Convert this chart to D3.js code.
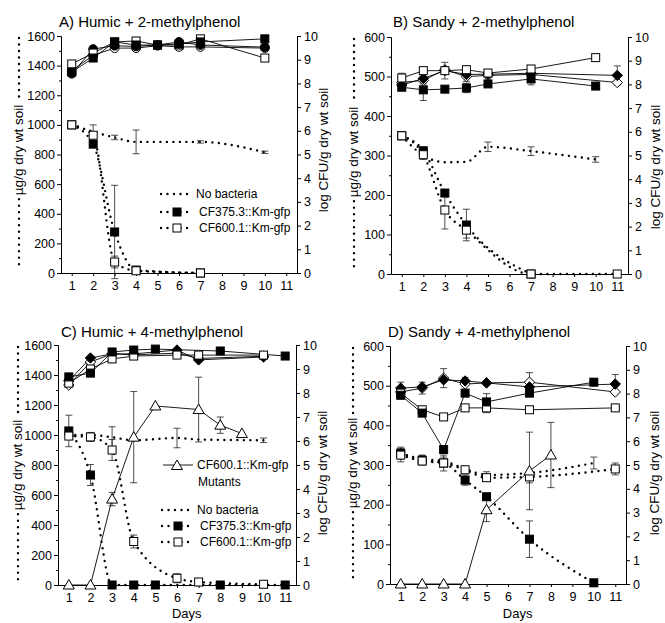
<!DOCTYPE html>
<html><head><meta charset="utf-8">
<script src="https://cdn.jsdelivr.net/npm/d3@7"></script>
<style>
body{margin:0;background:#fff;}
svg text{font-family:"Liberation Sans",Arial,sans-serif;fill:#000;}
</style></head><body>
<svg id="chart" width="665" height="623"></svg>
<script>
// ---------------- DATA ----------------
const dayTicks = [1,2,3,4,5,6,7,8,9,10,11];
const logTicks = [0,1,2,3,4,5,6,7,8,9,10];
const humicTicks = [0,200,400,600,800,1000,1200,1400,1600];
const sandyTicks = [0,100,200,300,400,500,600];
const legendLabels = ["No bacteria","CF375.3::Km-gfp","CF600.1::Km-gfp"];
const mutantLabels = ["CF600.1::Km-gfp","Mutants"];

// Panel A  (top series: log CFU/g, right axis; bottom series: ug/g, left axis)
const A_topDays = [1,2,3,4,5,6,7,10];
const A_topFilledSq = [8.48,9.07,9.75,9.62,9.62,9.66,9.75,9.88];
const A_topOpenSq   = [8.82,9.28,9.75,9.79,9.62,9.62,9.88,9.07];
const A_topFilledRd = [8.41,9.45,9.59,9.56,9.62,9.75,9.62,9.53];
const A_topOpenRd   = [8.53,9.19,9.49,9.49,9.59,9.54,9.54,9.49];
const A_noBactDays = [1,3,4,7,10];
const A_noBact     = [1000,915,885,885,815];
const A_noBactErr  = [0,15,80,8,8];
const A_cf375Days = [1,2,3,4,7];
const A_cf375     = [1000,870,277,20,0];
const A_cf375Err  = [0,0,315,0,0];
const A_cf600Days = [1,2,3,4,7];
const A_cf600     = [1000,930,74,15,0];
const A_cf600Err  = [0,70,40,10,0];

// Panel B
const B_topDaysSq = [1,2,3,4,5,7,10];
const B_topDaysDm = [1,2,3,4,5,7,11];
const B_topFilledSq = [7.88,7.77,7.8,7.85,8.02,8.23,7.93];
const B_topFilledSqErr = [0.1,0.45,0,0.2,0,0.25,0];
const B_topOpenSq   = [8.27,8.58,8.58,8.62,8.48,8.65,9.13];
const B_topOpenSqErr = [0.2,0,0.35,0.15,0,0,0];
const B_topFilledDm = [7.97,8.25,8.58,8.42,8.43,8.47,8.38];
const B_topFilledDmErr = [0,0,0,0,0,0,0.4];
const B_topOpenDm   = [8.08,8.17,8.62,8.33,8.38,8.42,8.08];
const B_topOpenDmErr = [0,0.15,0,0.2,0,0.25,0];
const B_noBactDays = [1,2,3,4,5,7,10];
const B_noBact     = [350,300,283,284,322,311,290];
const B_noBactErr  = [8,0,0,0,12,11,7];
const B_cf375Days = [1,2,3,4,7];
const B_cf375     = [350,312,205,124,0];
const B_cf375Err  = [0,0,0,40,0];
const B_cf600Days = [1,2,3,4,7,11];
const B_cf600     = [350,302,162,111,0,0];
const B_cf600Err  = [10,12,48,20,0,0];

// Panel C
const C_topDaysSq = [1,2,3,4,5,8,11];
const C_topDaysOther = [1,2,3,4,6,7,10];
const C_topFilledSq = [8.67,8.83,9.71,9.79,9.83,9.75,9.54];
const C_topFilledSqErr = [0,0.15,0,0,0,0,0];
const C_topOpenSq   = [8.41,9.0,9.42,9.54,9.58,9.58,9.58];
const C_topOpenSqErr = [0.1,0,0.15,0,0,0,0.1];
const C_topFilledDm = [8.5,9.46,9.63,9.63,9.79,9.38,9.5];
const C_topOpenDm   = [8.33,9.29,9.63,9.59,9.66,9.44,9.53];
const C_noBactDays = [1,2,3,4,6,7,10];
const C_noBact     = [1000,1000,985,965,980,970,965];
const C_noBactErr  = [0,0,70,0,65,0,15];
const C_cf375Days = [1,2,3,4,5,8,11];
const C_cf375     = [1027,733,0,0,0,0,0];
const C_cf375Err  = [105,70,0,0,0,0,0];
const C_cf600Days = [1,2,3,4,6,7,10];
const C_cf600     = [993,987,900,290,45,20,5];
const C_cf600Err  = [0,30,70,43,30,0,0];
const C_mutDays = [1,2,3,4,5,7,8,9];
const C_mutLog  = [0,0,3.58,6.16,7.46,7.31,6.66,6.31];
const C_mutErr  = [0,0,0.28,1.9,0,1.35,0.34,0];

// Panel D
const D_topDaysSq = [1,2,3,4,5,7,10];
const D_topDaysOther = [1,2,3,4,5,7,11];
const D_topFilledSq = [7.93,7.18,5.65,8.02,7.65,8.02,8.48];
const D_topFilledSqErr = [0.1,0,0,0,0.35,0,0.15];
const D_topOpenSq   = [8.02,7.32,7.02,7.4,7.4,7.32,7.4];
const D_topOpenSqErr = [0,0,0,0,0.2,0,0];
const D_topFilledDm = [8.23,8.28,8.58,8.53,8.45,8.28,8.4];
const D_topFilledDmErr = [0.25,0,0,0.15,0,0,0.4];
const D_topOpenDm   = [8.07,8.23,8.65,8.4,8.45,8.48,8.07];
const D_topOpenDmErr = [0,0.25,0.4,0,0,0.4,0];
const D_noBactDays = [1,2,3,4,5,7,10];
const D_noBact     = [330,315,310,290,275,280,305];
const D_noBactErr  = [15,10,10,0,8,0,15];
const D_cf375Days = [1,2,3,4,5,7,10];
const D_cf375     = [330,312,305,262,220,113,3];
const D_cf375Err  = [0,12,20,13,0,46,5];
const D_cf600Days = [1,2,3,4,5,7,11];
const D_cf600     = [325,310,305,288,268,270,290];
const D_cf600Err  = [17,0,0,0,8,15,15];
const D_mutDays = [1,2,3,4,5,7,8];
const D_mutLog  = [0,0,0,0,3.12,4.75,5.42];
const D_mutErr  = [0,0,0,0,0.5,1.63,1.37];

// ---------------- BUILD ----------------
const Z = (n)=>new Array(n).fill(0);
const S = (days, vals, errs, shape, fill)=>({pts:d3.zip(days, vals, errs||Z(days.length)), shape, fill});

const panels = [
 {title:"A) Humic + 2-methylphenol", tx:59, ty:27, x0:61, x1:297, y0:36, y1:273, max:1600, ticks:humicTicks,
  lt:{x:23,y:150}, rt:{x:328,y:150}, days:false,
  top:[S(A_topDays,A_topOpenRd,null,'circle','#fff'), S(A_topDays,A_topFilledRd,null,'circle','#000'),
       S(A_topDays,A_topOpenSq,null,'square','#fff'), S(A_topDays,A_topFilledSq,null,'square','#000')],
  noBact:S(A_noBactDays,A_noBact,A_noBactErr), cf375:S(A_cf375Days,A_cf375,A_cf375Err,'square','#000'),
  cf600:S(A_cf600Days,A_cf600,A_cf600Err,'square','#fff'), mut:null,
  legend:{x:161, rows:[194,212,228]}},
 {title:"B) Sandy + 2-methylphenol", tx:393, ty:27, x0:391, x1:628, y0:37, y1:274, max:600, ticks:sandyTicks,
  lt:{x:358,y:152}, rt:{x:660,y:167}, days:false,
  top:[S(B_topDaysDm,B_topOpenDm,B_topOpenDmErr,'diamond','#fff'), S(B_topDaysDm,B_topFilledDm,B_topFilledDmErr,'diamond','#000'),
       S(B_topDaysSq,B_topOpenSq,B_topOpenSqErr,'square','#fff'), S(B_topDaysSq,B_topFilledSq,B_topFilledSqErr,'square','#000')],
  noBact:S(B_noBactDays,B_noBact,B_noBactErr), cf375:S(B_cf375Days,B_cf375,B_cf375Err,'square','#000'),
  cf600:S(B_cf600Days,B_cf600,B_cf600Err,'square','#fff'), mut:null, legend:null},
 {title:"C) Humic + 4-methylphenol", tx:61, ty:336.5, x0:58, x1:296, y0:345, y1:585, max:1600, ticks:humicTicks,
  lt:{x:22,y:465}, rt:{x:327,y:473}, days:true,
  top:[S(C_topDaysOther,C_topOpenDm,null,'diamond','#fff'), S(C_topDaysOther,C_topFilledDm,null,'diamond','#000'),
       S(C_topDaysOther,C_topOpenSq,C_topOpenSqErr,'square','#fff'), S(C_topDaysSq,C_topFilledSq,C_topFilledSqErr,'square','#000')],
  noBact:S(C_noBactDays,C_noBact,C_noBactErr), cf375:S(C_cf375Days,C_cf375,C_cf375Err,'square','#000'),
  cf600:S(C_cf600Days,C_cf600,C_cf600Err,'square','#fff'), mut:S(C_mutDays,C_mutLog,C_mutErr,'triangle','#fff'),
  legend:{x:162, rows:[510,526,542], mut:[465,482]}},
 {title:"D) Sandy + 4-methylphenol", tx:388, ty:336.5, x0:390, x1:626, y0:346, y1:584, max:600, ticks:sandyTicks,
  lt:{x:357,y:463}, rt:{x:659,y:473}, days:true,
  top:[S(D_topDaysOther,D_topOpenDm,D_topOpenDmErr,'diamond','#fff'), S(D_topDaysOther,D_topFilledDm,D_topFilledDmErr,'diamond','#000'),
       S(D_topDaysOther,D_topOpenSq,D_topOpenSqErr,'square','#fff'), S(D_topDaysSq,D_topFilledSq,D_topFilledSqErr,'square','#000')],
  noBact:S(D_noBactDays,D_noBact,D_noBactErr), cf375:S(D_cf375Days,D_cf375,D_cf375Err,'square','#000'),
  cf600:S(D_cf600Days,D_cf600,D_cf600Err,'square','#fff'), mut:S(D_mutDays,D_mutLog,D_mutErr,'triangle','#fff'),
  legend:null}
];

const svg = d3.select('#chart');
const FONT = 'Liberation Sans, Arial, sans-serif';
const DOT = {w:2.4, dash:'0 6.5'};

function marker(g, shape, fill, cx, cy){
  let el;
  if(shape==='square') el = g.append('rect').attr('x',cx-4).attr('y',cy-4).attr('width',8).attr('height',8);
  else if(shape==='circle') el = g.append('circle').attr('cx',cx).attr('cy',cy).attr('r',4.4);
  else if(shape==='diamond') el = g.append('path').attr('d',`M${cx},${cy-5.2}L${cx+5.2},${cy}L${cx},${cy+5.2}L${cx-5.2},${cy}Z`);
  else el = g.append('path').attr('d',`M${cx},${cy-5.5}L${cx+5.5},${cy+4}L${cx-5.5},${cy+4}Z`);
  el.attr('fill',fill).attr('stroke','#000').attr('stroke-width',1);
}
function errBars(g, pts, x, y){
  pts.filter(p=>p[2]>0).forEach(p=>{
    const cx=x(p[0]), a=y(p[1]-p[2]), b=y(p[1]+p[2]);
    g.append('line').attr('x1',cx).attr('x2',cx).attr('y1',a).attr('y2',b);
    g.append('line').attr('x1',cx-3.5).attr('x2',cx+3.5).attr('y1',a).attr('y2',a);
    g.append('line').attr('x1',cx-3.5).attr('x2',cx+3.5).attr('y1',b).attr('y2',b);
  });
}
function styleAxis(sel){
  sel.attr('font-size',12.5).attr('font-family',FONT);
  sel.selectAll('path,line').attr('stroke','#000').attr('stroke-width',1);
  sel.selectAll('text').attr('fill','#000');
}

panels.forEach(p=>{
  const x = d3.scaleLinear().domain([0.5,11.5]).range([p.x0,p.x1]);
  const yL = d3.scaleLinear().domain([0,p.max]).range([p.y1,p.y0]);
  const yR = d3.scaleLinear().domain([0,10]).range([p.y1,p.y0]);
  const g = svg.append('g');

  // axes
  const step = p.ticks[1]-p.ticks[0];
  const minor = p.ticks.slice(0,-1).map(t=>t+step/2);
  styleAxis(g.append('g').attr('transform',`translate(${p.x0},0)`)
    .call(d3.axisLeft(yL).tickValues(minor).tickSize(2).tickSizeOuter(0).tickFormat('')));
  styleAxis(g.append('g').attr('transform',`translate(${p.x0},0)`)
    .call(d3.axisLeft(yL).tickValues(p.ticks).tickSize(4).tickSizeOuter(0).tickPadding(2).tickFormat(d3.format('d'))));
  styleAxis(g.append('g').attr('transform',`translate(${p.x1},0)`)
    .call(d3.axisRight(yR).tickValues(logTicks).tickSize(4).tickSizeOuter(0).tickPadding(3).tickFormat(d3.format('d'))));
  styleAxis(g.append('g').attr('transform',`translate(0,${p.y1})`)
    .call(d3.axisBottom(x).tickValues(dayTicks).tickSize(3).tickSizeOuter(0).tickPadding(5).tickFormat(d3.format('d'))));

  // titles
  g.append('text').attr('x',p.tx).attr('y',p.ty).attr('font-size',15).text(p.title);
  const lt = g.append('text').attr('transform',`translate(${p.lt.x},${p.lt.y}) rotate(-90)`)
    .attr('text-anchor','middle').attr('font-size',13.5).text('µg/g dry wt soil');
  const L = lt.node().getComputedTextLength();
  const dx = p.lt.x-4;
  [[p.y0+2, p.lt.y-L/2-4],[p.lt.y+L/2+4, p.y1-5]].forEach(s=>{
    g.append('line').attr('x1',dx).attr('x2',dx).attr('y1',s[0]).attr('y2',s[1])
     .attr('stroke','#000').attr('stroke-width',DOT.w).attr('stroke-dasharray',DOT.dash).attr('stroke-linecap','round');
  });
  g.append('text').attr('transform',`translate(${p.rt.x},${p.rt.y}) rotate(-90)`)
    .attr('text-anchor','middle').attr('font-size',13.5).text('log CFU/g dry wt soil');
  if(p.days) g.append('text').attr('x',x(6.45)).attr('y',617.5).attr('text-anchor','middle').attr('font-size',13).text('Days');

  // dotted (ug/g) series
  const dl = d3.line().x(d=>x(d[0])).y(d=>yL(d[1])).curve(d3.curveMonotoneX);
  [p.noBact,p.cf375,p.cf600].forEach(s=>{
    g.append('path').attr('d',dl(s.pts)).attr('fill','none').attr('stroke','#000')
     .attr('stroke-width',DOT.w).attr('stroke-dasharray',DOT.dash).attr('stroke-linecap','round');
  });
  // solid (log CFU) series
  const sl = d3.line().x(d=>x(d[0])).y(d=>yR(d[1]));
  const solids = p.top.concat(p.mut?[p.mut]:[]);
  solids.forEach(s=>{
    g.append('path').attr('d',sl(s.pts)).attr('fill','none').attr('stroke','#000').attr('stroke-width',0.9);
  });
  // error bars
  const eg = g.append('g').attr('stroke','#222').attr('stroke-width',0.8);
  [p.noBact,p.cf375,p.cf600].forEach(s=>errBars(eg,s.pts,x,yL));
  solids.forEach(s=>errBars(eg,s.pts,x,yR));
  // markers
  const mg = g.append('g');
  [p.cf375,p.cf600].forEach(s=>s.pts.forEach(d=>marker(mg,s.shape,s.fill,x(d[0]),yL(d[1]))));
  solids.forEach(s=>s.pts.forEach(d=>marker(mg,s.shape,s.fill,x(d[0]),yR(d[1]))));

  // legend
  if(p.legend){
    const lg = g.append('g'), lx = p.legend.x;
    const dotted = (y,x1,x2)=>lg.append('line').attr('x1',x1).attr('x2',x2).attr('y1',y).attr('y2',y)
      .attr('stroke','#000').attr('stroke-width',DOT.w).attr('stroke-dasharray',DOT.dash).attr('stroke-linecap','round');
    if(p.legend.mut){
      const y = p.legend.mut[0];
      lg.append('line').attr('x1',lx+1).attr('x2',lx+31).attr('y1',y).attr('y2',y).attr('stroke','#000').attr('stroke-width',0.9);
      marker(lg,'triangle','#fff',lx+15,y+0.5);
      lg.append('text').attr('x',lx+35).attr('y',y).attr('dy','0.35em').attr('font-size',12).text(mutantLabels[0]);
      lg.append('text').attr('x',lx+36).attr('y',p.legend.mut[1]).attr('dy','0.35em').attr('font-size',12).text(mutantLabels[1]);
    }
    const r = p.legend.rows;
    dotted(r[0],lx,lx+28);
    lg.append('text').attr('x',lx+35).attr('y',r[0]).attr('dy','0.35em').attr('font-size',12).text(legendLabels[0]);
    [[r[1],'#000',legendLabels[1]],[r[2],'#fff',legendLabels[2]]].forEach(row=>{
      dotted(row[0],lx,lx+32);
      marker(lg,'square',row[1],lx+16,row[0]);
      lg.append('text').attr('x',lx+38).attr('y',row[0]).attr('dy','0.35em').attr('font-size',12).text(row[2]);
    });
  }
});
</script>
</body></html>
